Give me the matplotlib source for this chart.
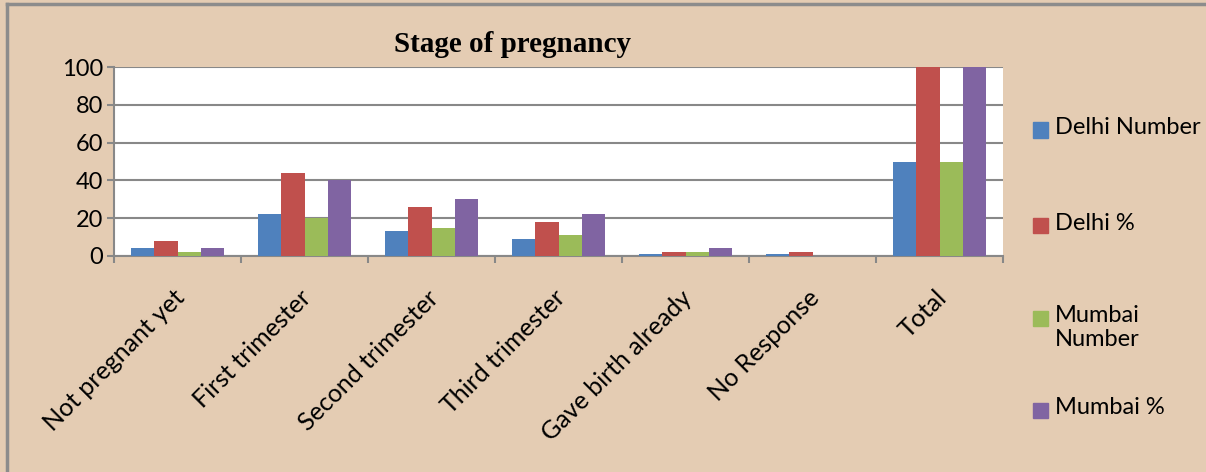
import matplotlib.pyplot as plt
from matplotlib.patches import Rectangle
from matplotlib.lines import Line2D
from matplotlib.transforms import ScaledTranslation
import numpy as np

categories = ['Not pregnant yet', 'First trimester', 'Second trimester', 'Third trimester',
              'Gave birth already', 'No Response', 'Total']
series = ['Delhi Number', 'Delhi %', 'Mumbai Number', 'Mumbai %']
delhi_num = [4, 22, 13, 9, 1, 1, 50]
delhi_pct = [8, 44, 26, 18, 2, 2, 100]
mumbai_num = [2, 20, 15, 11, 2, 0, 50]
mumbai_pct = [4, 40, 30, 22, 4, 0, 100]
colors = ['#4F81BD', '#C0504D', '#9BBB59', '#8064A2']
legend_labels = ['Delhi Number', 'Delhi %', 'Mumbai\nNumber', 'Mumbai %']

W, H = 1206, 472
fig = plt.figure(figsize=(W / 100, H / 100), dpi=100)
fig.patch.set_facecolor('#E4CCB3')
font = ['Lato', 'DejaVu Sans']
grey = '#888888'

ax = fig.add_axes([114 / W, 1 - 256 / H, (1003 - 114) / W, (256 - 67) / H])
ax.set_facecolor('white')

x = np.arange(len(categories))
bw = 0.183
for i, vals in enumerate([delhi_num, delhi_pct, mumbai_num, mumbai_pct]):
    ax.bar(x + (i - 1.5) * bw, vals, width=bw, color=colors[i], label=series[i], zorder=3)

ax.set_xlim(-0.5, len(categories) - 0.5)
ax.set_ylim(0, 100)
ax.set_yticks(range(0, 101, 20))
ax.yaxis.grid(True, color=grey, linewidth=1.5, zorder=0)
for s in ['top', 'right']:
    ax.spines[s].set_visible(False)
for s in ['left', 'bottom']:
    ax.spines[s].set_color(grey)
    ax.spines[s].set_linewidth(1.5)
ax.set_xticks(np.arange(-0.5, len(categories)), [''] * (len(categories) + 1))
ax.tick_params(axis='x', which='major', length=5, width=1.5, color=grey)
ax.tick_params(axis='y', length=5, width=1.5, color=grey, labelsize=17, pad=3)
for lab in ax.get_yticklabels():
    lab.set_family(font)

# category labels, rotated like the spreadsheet
offset = ScaledTranslation(-5 / 100, -30 / 100, fig.dpi_scale_trans)
for xi, cat in zip(x, categories):
    ax.text(xi, 0, cat, transform=ax.get_xaxis_transform() + offset, rotation=45,
            rotation_mode='anchor', ha='right', va='top', family=font, fontsize=18)

fig.text(512 / W, 1 - 44 / H, 'Stage of pregnancy', ha='center', va='center',
         family='Liberation Serif', fontweight='bold', fontsize=21)

# legend
leg_y = [130, 226, 318, 410]
for c, lab, yy in zip(colors, legend_labels, leg_y):
    fig.patches.append(Rectangle((1033 / W, 1 - (yy + 7.5) / H), 15 / W, 15 / H,
                                 transform=fig.transFigure, color=c))
    fig.text(1055 / W, 1 - (yy - 13) / H, lab, ha='left', va='top', family=font,
             fontsize=17, linespacing=1.15)

# chart border
fig.add_artist(Line2D([7 / W, 7 / W], [0, 1 - 4 / H], color='#8C8C8C', linewidth=2.5,
                      transform=fig.transFigure))
fig.add_artist(Line2D([7 / W, 1], [1 - 4 / H, 1 - 4 / H], color='#8C8C8C', linewidth=2.5,
                      transform=fig.transFigure))

fig.savefig('out.png', dpi=100, facecolor=fig.get_facecolor())
